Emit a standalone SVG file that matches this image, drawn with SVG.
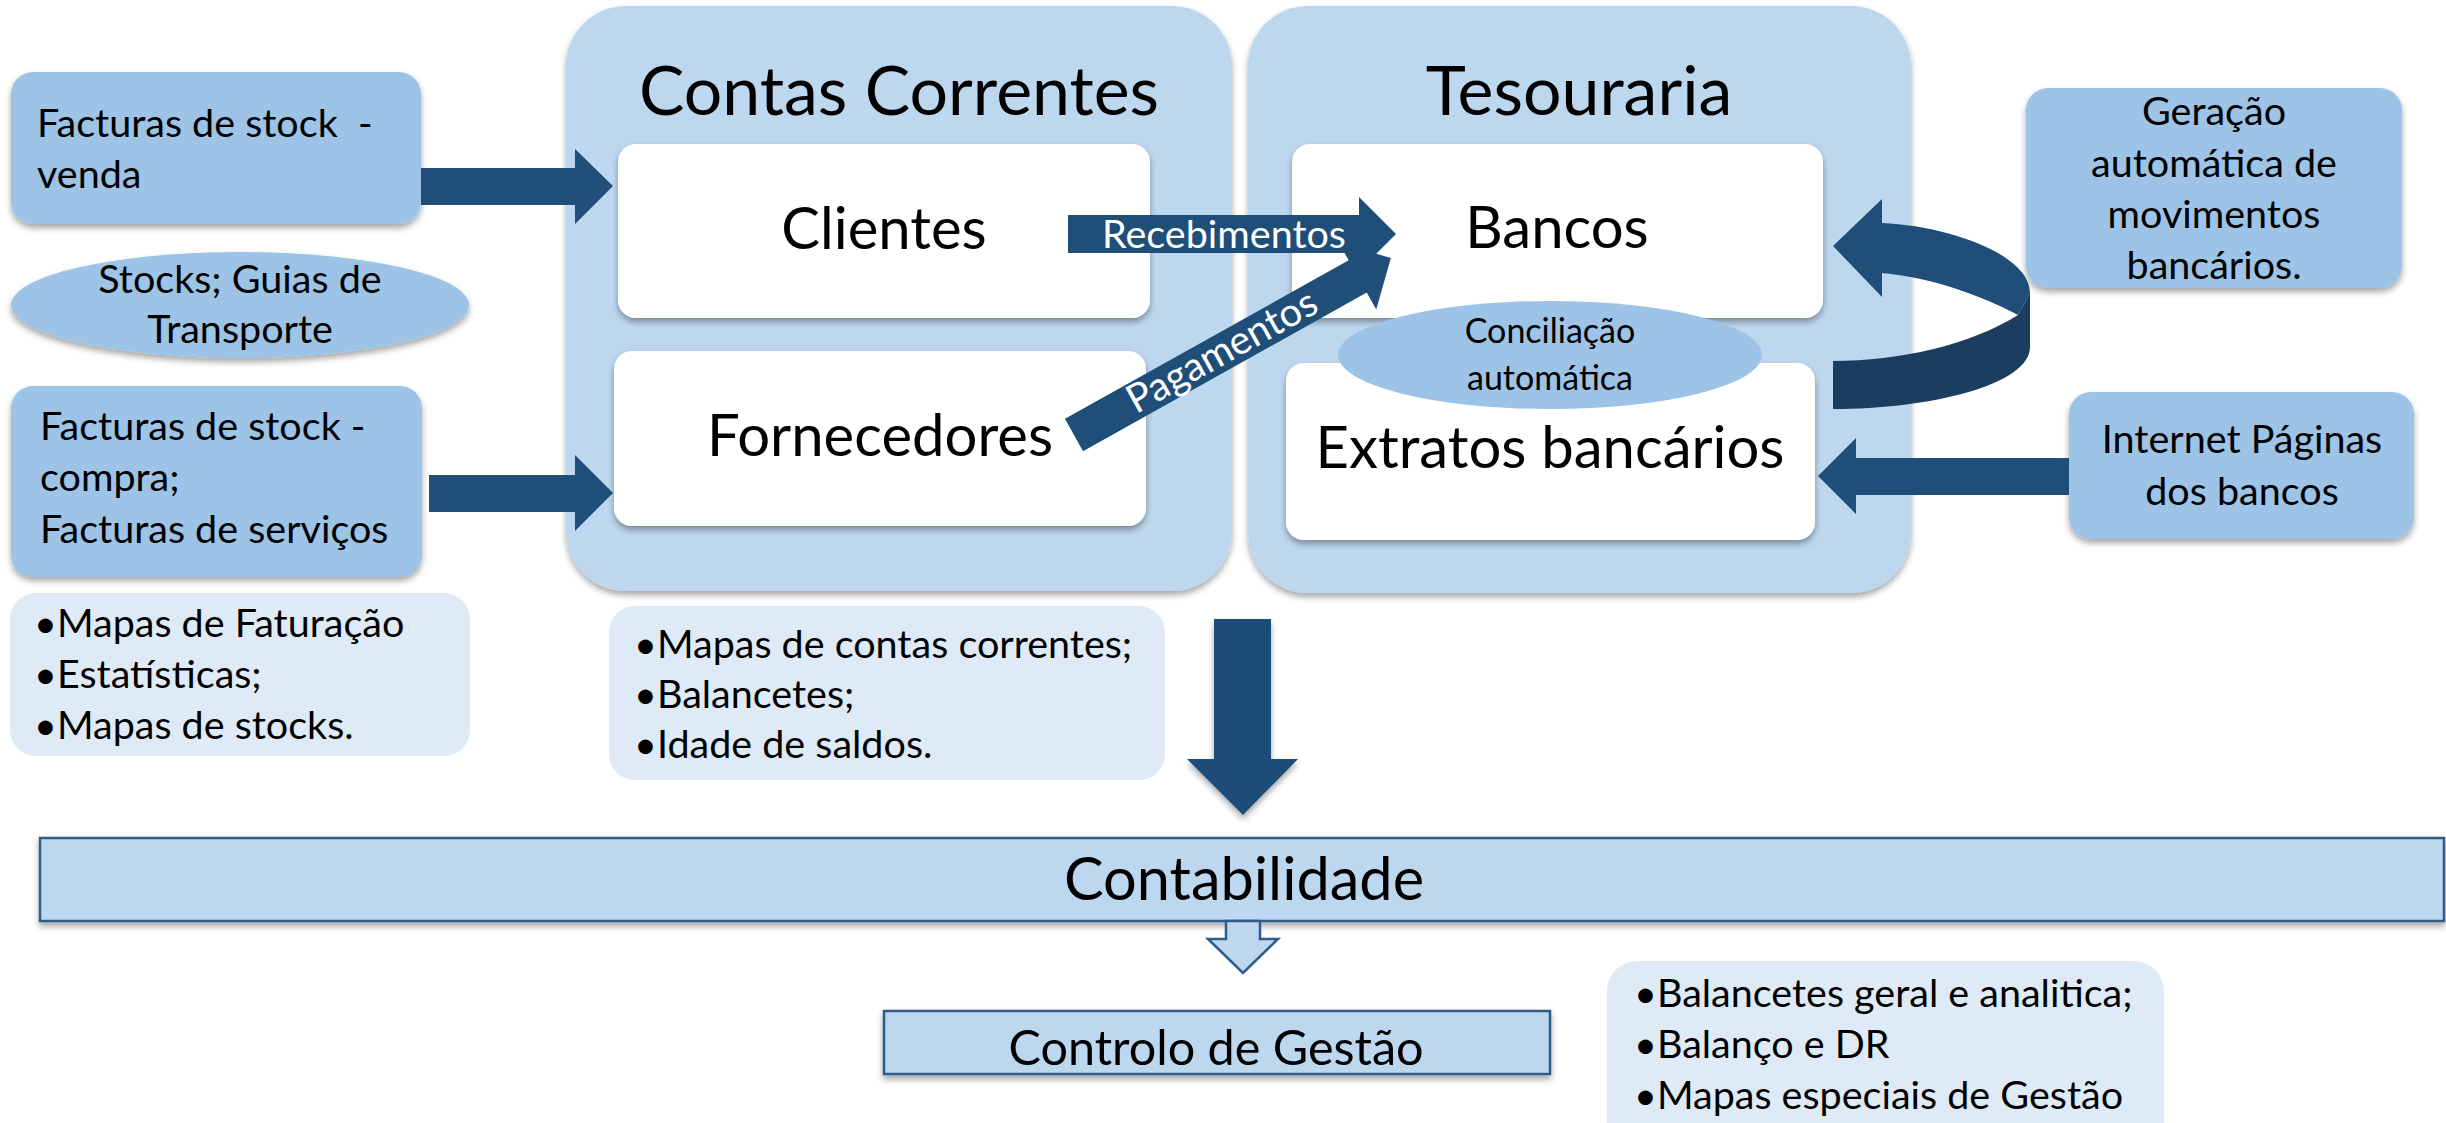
<svg xmlns="http://www.w3.org/2000/svg" width="2446" height="1123" viewBox="0 0 2446 1123">
<defs>
<filter id="sh" x="-5%" y="-10%" width="110%" height="130%"><feDropShadow dx="0" dy="4" stdDeviation="3" flood-color="#000" flood-opacity="0.35"/></filter>
<style>
.t{font-family:Lato,"Open Sans","Noto Sans",sans-serif;fill:#000}
.s38{font-size:39.5px}
.s32{font-size:34px}
.s56{font-size:58px}
.s60{font-size:59.5px}
.s65{font-size:68px}
.s47{font-size:48.5px}
.m{text-anchor:middle}
.w{fill:#fff}
.blue{fill:#9DC3E6}
.cont{fill:#BDD7EE}
.pale{fill:#DEEBF7}
.wbox{fill:#fff}
.arr{fill:#1F4E79}
.dark{fill:#1B3D5F}
.bar{fill:#BDD7EE;stroke:#2E5C8A;stroke-width:2.5}
</style>
</defs>
<rect width="2446" height="1123" fill="#fff"/>

<g id="contas-correntes">
<rect class="cont" x="566" y="6" width="666" height="585" rx="60" filter="url(#sh)"/>
<text class="t s65 m" x="899" y="115">Contas Correntes</text>
</g>
<g id="tesouraria">
<rect class="cont" x="1248" y="6" width="663" height="587" rx="60" filter="url(#sh)"/>
<text class="t s65 m" x="1579" y="115">Tesouraria</text>
</g>
<g id="clientes">
<rect class="wbox" x="618" y="144" width="532" height="174" rx="18" filter="url(#sh)"/>
<text class="t s56 m" x="884" y="249">Clientes</text>
</g>
<g id="fornecedores">
<rect class="wbox" x="614" y="351" width="532" height="175" rx="18" filter="url(#sh)"/>
<text class="t s56 m" x="880" y="456">Fornecedores</text>
</g>
<g id="bancos">
<rect class="wbox" x="1292" y="144" width="531" height="174" rx="18" filter="url(#sh)"/>
<text class="t s56 m" x="1557" y="248">Bancos</text>
</g>
<g id="extratos">
<rect class="wbox" x="1286" y="363" width="529" height="177" rx="18" filter="url(#sh)"/>
<text class="t s56 m" x="1550" y="468">Extratos bancários</text>
</g>

<g id="facturas-venda">
<rect class="blue" x="11" y="72" width="410" height="152" rx="22" filter="url(#sh)"/>
<text class="t s38" x="37" y="137">Facturas de stock &#160;-</text>
<text class="t s38" x="37" y="188">venda</text>
</g>
<g id="stocks-guias">
<ellipse class="blue" cx="240" cy="305" rx="229" ry="53" filter="url(#sh)"/>
<text class="t s38 m" x="240" y="293">Stocks; Guias de</text>
<text class="t s38 m" x="240" y="343">Transporte</text>
</g>
<g id="facturas-compra">
<rect class="blue" x="11" y="386" width="411" height="191" rx="22" filter="url(#sh)"/>
<text class="t s38" x="40" y="440">Facturas de stock -</text>
<text class="t s38" x="40" y="491">compra;</text>
<text class="t s38" x="40" y="543">Facturas de serviços</text>
</g>
<g id="mapas-faturacao">
<rect class="pale" x="10" y="593" width="460" height="163" rx="26"/>
<text class="t s38" x="34" y="637">•Mapas de Faturação</text>
<text class="t s38" x="34" y="688">•Estatísticas;</text>
<text class="t s38" x="34" y="739">•Mapas de stocks.</text>
</g>
<g id="mapas-contas">
<rect class="pale" x="609" y="606" width="556" height="174" rx="26"/>
<text class="t s38" x="634" y="658">•Mapas de contas correntes;</text>
<text class="t s38" x="634" y="708">•Balancetes;</text>
<text class="t s38" x="634" y="758">•Idade de saldos.</text>
</g>
<g id="geracao">
<rect class="blue" x="2026" y="88" width="376" height="200" rx="22" filter="url(#sh)"/>
<text class="t s38 m" x="2214" y="125">Geração</text>
<text class="t s38 m" x="2214" y="177">automática de</text>
<text class="t s38 m" x="2214" y="228">movimentos</text>
<text class="t s38 m" x="2214" y="279">bancários.</text>
</g>
<g id="internet">
<rect class="blue" x="2069" y="392" width="345" height="147" rx="22" filter="url(#sh)"/>
<text class="t s38 m" x="2242" y="453">Internet Páginas</text>
<text class="t s38 m" x="2242" y="505">dos bancos</text>
</g>
<g id="contabilidade">
<rect class="bar" x="40" y="838" width="2404" height="83" filter="url(#sh)"/>
<text class="t s60 m" x="1244" y="900">Contabilidade</text>
</g>
<g id="controlo">
<rect class="bar" x="884" y="1011" width="666" height="63" filter="url(#sh)"/>
<text class="t s47 m" x="1216" y="1065">Controlo de Gestão</text>
</g>
<g id="mapas-gestao">
<rect class="pale" x="1607" y="961" width="557" height="190" rx="30"/>
<text class="t s38" x="1634" y="1007">•Balancetes geral e analitica;</text>
<text class="t s38" x="1634" y="1058">•Balanço e DR</text>
<text class="t s38" x="1634" y="1109">•Mapas especiais de Gestão</text>
</g>

<g id="connectors">
<polygon class="arr" points="421,168 575,168 575,149 613,186 575,224 575,205 421,205"/>
<polygon class="arr" points="429,475 575,475 575,455 613,493 575,531 575,512 429,512"/>
<g transform="translate(1074,435) rotate(-29.2)">
<polygon class="arr" points="0,-18.5 325,-18.5 325,-38 363,0 325,38 325,18.5 0,18.5"/>
<text class="t s38 m w" x="170" y="12">Pagamentos</text>
</g>
<polygon class="arr" points="1068,215 1359,215 1359,197 1396,234 1359,271 1359,253 1068,253"/>
<text class="t s38 w" x="1102" y="248">Recebimentos</text>
<path class="dark" d="M2018,315 C1970,345 1900,361 1833,361 L1833,409 C1930,409 2030,385 2030,347 L2030,293 Z"/>
<path class="arr" d="M1882,223 C1950,226 2030,255 2030,293 L2018,315 C1980,295 1930,277 1882,273 L1882,297 L1833,246 L1882,199 Z"/>
<polygon class="arr" points="2069,458 1856,458 1856,438 1818,476 1856,514 1856,495 2069,495"/>
<polygon class="arr" points="1214,619 1271,619 1271,759 1298,759 1243,815 1187,759 1214,759" filter="url(#sh)"/>
<polygon class="bar" points="1226,921 1260,921 1260,939 1278,939 1243,973 1208,939 1226,939" stroke-linejoin="miter"/>
</g>

<g id="conciliacao">
<ellipse class="blue" cx="1550" cy="355" rx="212" ry="54"/>
<text class="t s32 m" x="1550" y="343">Conciliação</text>
<text class="t s32 m" x="1550" y="390">automática</text>
</g>
</svg>
